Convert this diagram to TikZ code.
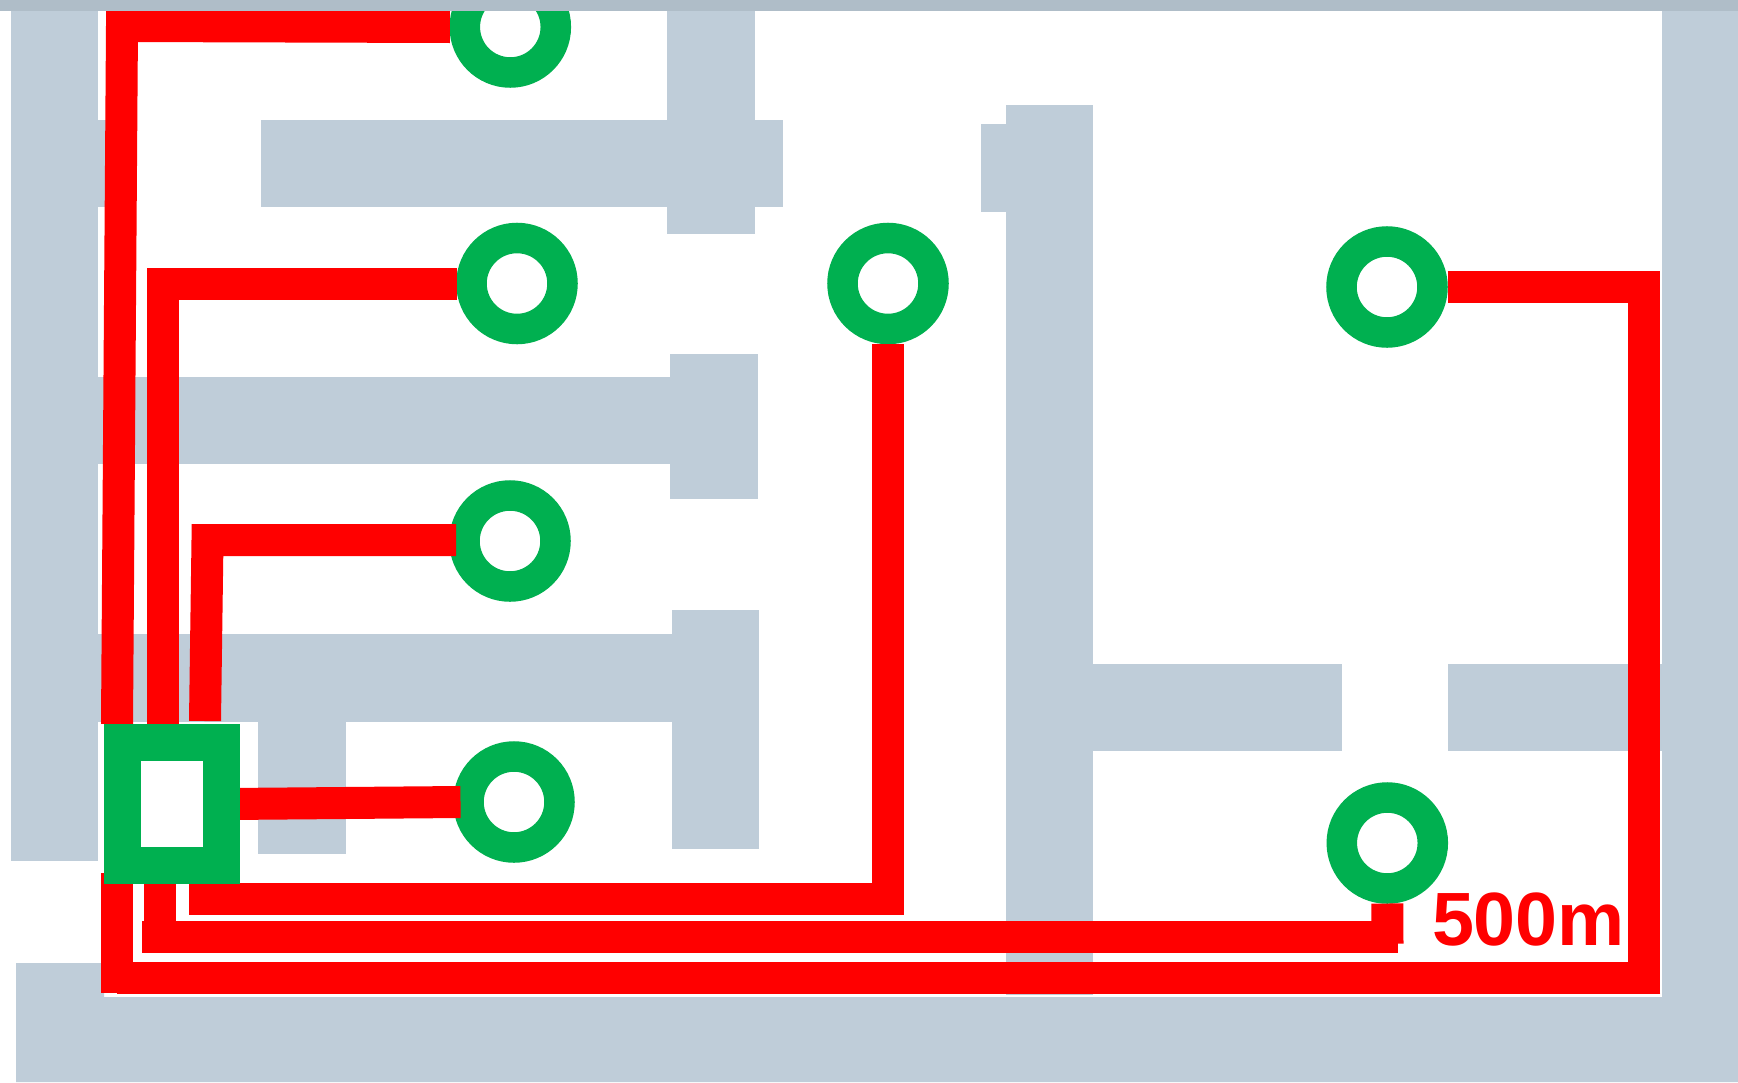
\documentclass[tikz,border=0pt]{standalone}
\usepackage{fontspec}
\setmainfont{Liberation Sans}
\pgfdeclarelayer{front}
\pgfsetlayers{main,front}
\definecolor{road}{HTML}{BFCDD9}
\definecolor{band}{HTML}{AFBDC8}
\definecolor{site}{HTML}{00B050}
\definecolor{cable}{HTML}{FF0000}
\tikzset{
  roadfill/.style={fill=road},
  bandfill/.style={fill=band},
  well/.style={circle,draw=site,fill=white,line width=30.5pt,minimum size=91pt,inner sep=0pt,outer sep=15pt},
  hub/.style={rectangle,draw=site,fill=white,line width=37pt,minimum width=98.8pt,minimum height=122.6pt,inner sep=0pt,outer sep=18.5pt},
  cableline/.style={draw=cable,line width=32pt,line cap=butt,line join=miter},
  scalelabel/.style={text=cable,font=\bfseries\fontsize{75.5}{80}\selectfont,anchor=base west,inner sep=0pt,outer sep=0pt}
}
\begin{document}
\begin{tikzpicture}[x=1pt,y=-1pt]
\useasboundingbox (0,0) rectangle (1738,1082);
\fill[white] (0,0) rectangle (1738,1082);
% roads
\fill[roadfill] (11,11) rectangle (98,861);
\fill[roadfill] (98,120) rectangle (125,207);
\fill[roadfill] (261,120) rectangle (783,207);
\fill[roadfill] (667,11) rectangle (755,234);
\fill[roadfill] (98,377) rectangle (670,464);
\fill[roadfill] (670,354) rectangle (758,499);
\fill[roadfill] (98,634) rectangle (672,722);
\fill[roadfill] (672,610) rectangle (759,849);
\fill[roadfill] (258,722) rectangle (346,854);
\fill[roadfill] (1006,105) rectangle (1093,995);
\fill[roadfill] (981,124) rectangle (1006,212);
\fill[roadfill] (1093,664) rectangle (1342,751);
\fill[roadfill] (1448,664) rectangle (1662,751);
\fill[roadfill] (1662,11) rectangle (1738,1082);
\fill[roadfill] (16,963) -- (104,963) -- (104,997) -- (1738,997) -- (1738,1082) -- (16,1082) -- cycle;
% wells
\node[well] (c1) at (510.3,27) {};
\node[well] (c2) at (517,283.5) {};
\node[well] (c3) at (510,541) {};
\node[well] (c4) at (514,802) {};
\node[well] (c5) at (888,283.5) {};
\node[well] (c6) at (1387,287) {};
\node[well] (c7) at (1387.3,843) {};
% hub and top band sit above the cables
\begin{pgfonlayer}{front}
\fill[bandfill] (0,0) rectangle (1738,11);
\node[hub] (sq) at (171.7,803.9) {};
\end{pgfonlayer}
% way points
\coordinate (a1) at (122,26);
\coordinate (a2) at (117,724);
\coordinate (b1) at (162.5,283.5);
\coordinate (d0) at (456,540);
\coordinate (d1) at (207.5,540);
\coordinate (d2) at (205,721);
\coordinate (e1) at (887.5,899.3);
\coordinate (e2) at (189,899.3);
\coordinate (f1) at (159.5,937.3);
\coordinate (f2) at (142,937.3);
\coordinate (f3) at (1397.7,937.3);
\coordinate (f4) at (1387.5,943.7);
\coordinate (g1) at (1659.5,287);
\coordinate (g2) at (1644.3,284);
\coordinate (g3) at (1644.3,994.4);
\coordinate (g4) at (1660.3,978.4);
\coordinate (g5) at (117,978.4);
\coordinate (g6) at (117,873);
\coordinate (g7) at (117,992.7);
% cables
\draw[cableline] (c1.west) -- (a1) -- (a2);
\draw[cableline] (c2.west) -- (b1) -- (b1 |- sq.north);
\draw[cableline] (d0) -- (d1) -- (d2);
\draw[cableline] (sq.east) -- ([xshift=7pt]c4.west);
\draw[cableline] (e1 |- c5.south) -- (e1) -- (e2);
\draw[cableline] (f1 |- sq.south) -- (f1);
\draw[cableline] (f2) -- (f3);
\draw[cableline] (c7.south) -- (f4);
\draw[cableline] (c6.east) -- (g1);
\draw[cableline] (g2) -- (g3);
\draw[cableline] (g4) -- (g5);
\draw[cableline] (g6) -- (g7);
% scale
\node[scalelabel] (lbl) at (1432,945) {500m};
\end{tikzpicture}
\end{document}
